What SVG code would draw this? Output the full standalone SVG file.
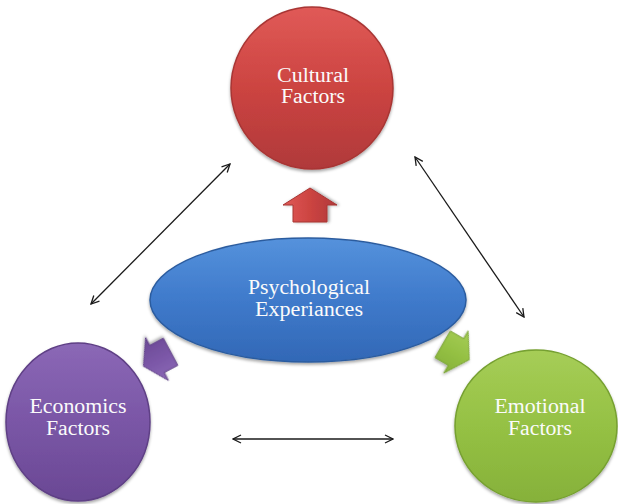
<svg xmlns="http://www.w3.org/2000/svg" width="618" height="504" viewBox="0 0 618 504">
<style>
.lbl{font-family:"Liberation Serif","Times New Roman",serif;font-size:20px;fill:#fbfbfb;text-anchor:middle}
.conn{stroke:#1a1a1a;stroke-width:1.3;fill:none;marker-start:url(#ah);marker-end:url(#ah)}
</style>
<defs>
<marker id="ah" viewBox="0 0 10 10" refX="9" refY="5" markerWidth="10" markerHeight="10" markerUnits="userSpaceOnUse" orient="auto-start-reverse">
<path d="M1,1 L9,5 L1,9" fill="none" stroke="#1a1a1a" stroke-width="1.3"/>
</marker>
<filter id="sh" x="-20%" y="-20%" width="140%" height="140%">
<feDropShadow dx="0" dy="2" stdDeviation="1.5" flood-color="#000" flood-opacity="0.35"/>
</filter>
<linearGradient id="gRed" x1="0" y1="0" x2="0" y2="1">
<stop offset="0" stop-color="#e05a57"/><stop offset="0.5" stop-color="#cc4441"/><stop offset="1" stop-color="#b0393a"/>
</linearGradient>
<linearGradient id="gBlue" x1="0" y1="0" x2="0" y2="1">
<stop offset="0" stop-color="#5592dc"/><stop offset="0.5" stop-color="#3f7acb"/><stop offset="1" stop-color="#3268b6"/>
</linearGradient>
<linearGradient id="gPur" x1="0" y1="0" x2="0" y2="1">
<stop offset="0" stop-color="#8b68b6"/><stop offset="0.5" stop-color="#7a56a6"/><stop offset="1" stop-color="#6a4894"/>
</linearGradient>
<linearGradient id="gGrn" x1="0" y1="0" x2="0" y2="1">
<stop offset="0" stop-color="#a6cd57"/><stop offset="0.5" stop-color="#95c144"/><stop offset="1" stop-color="#86b13a"/>
</linearGradient>
<path id="blk" d="M-17,-17 L0,-17 L0,-27 L17,0 L0,27 L0,17 L-17,17 Z"/>
</defs>

<g id="connectors">
<line class="conn" x1="91" y1="304" x2="230" y2="164"/>
<line class="conn" x1="415" y1="157" x2="524" y2="317"/>
<line class="conn" x1="233" y1="439" x2="393" y2="439"/>
</g>

<g id="cultural">
<circle cx="312" cy="88" r="81" fill="url(#gRed)" stroke="#a83634" stroke-width="1.5" filter="url(#sh)"/>
<text class="lbl" x="313" y="82" textLength="72" lengthAdjust="spacingAndGlyphs">Cultural</text>
<text class="lbl" x="313" y="103" textLength="64" lengthAdjust="spacingAndGlyphs">Factors</text>
</g>

<g id="arrow-red">
<use href="#blk" transform="translate(310,205) rotate(-90)" fill="url(#gRed)" stroke="#a83634" stroke-width="1" filter="url(#sh)"/>
</g>

<g id="psychological">
<ellipse cx="308" cy="300" rx="158" ry="62" fill="url(#gBlue)" stroke="#2c5c9f" stroke-width="1.5" filter="url(#sh)"/>
<text class="lbl" x="309" y="294" textLength="122" lengthAdjust="spacingAndGlyphs">Psychological</text>
<text class="lbl" x="309" y="316" textLength="108" lengthAdjust="spacingAndGlyphs">Experiances</text>
</g>

<g id="arrow-purple">
<use href="#blk" transform="translate(157,359) rotate(152) scale(0.9)" fill="url(#gPur)" stroke="#5e3f85" stroke-width="1" filter="url(#sh)"/>
</g>

<g id="arrow-green">
<use href="#blk" transform="translate(456,352) rotate(30) scale(0.9)" fill="url(#gGrn)" stroke="#76a030" stroke-width="1" filter="url(#sh)"/>
</g>

<g id="economics">
<ellipse cx="78" cy="422" rx="72" ry="79" fill="url(#gPur)" stroke="#5e3f85" stroke-width="1.5" filter="url(#sh)"/>
<text class="lbl" x="78" y="413" textLength="97" lengthAdjust="spacingAndGlyphs">Economics</text>
<text class="lbl" x="78" y="435" textLength="64" lengthAdjust="spacingAndGlyphs">Factors</text>
</g>

<g id="emotional">
<ellipse cx="536" cy="426" rx="81" ry="76" fill="url(#gGrn)" stroke="#76a030" stroke-width="1.5" filter="url(#sh)"/>
<text class="lbl" x="540" y="413" textLength="91" lengthAdjust="spacingAndGlyphs">Emotional</text>
<text class="lbl" x="540" y="435" textLength="64" lengthAdjust="spacingAndGlyphs">Factors</text>
</g>
</svg>
